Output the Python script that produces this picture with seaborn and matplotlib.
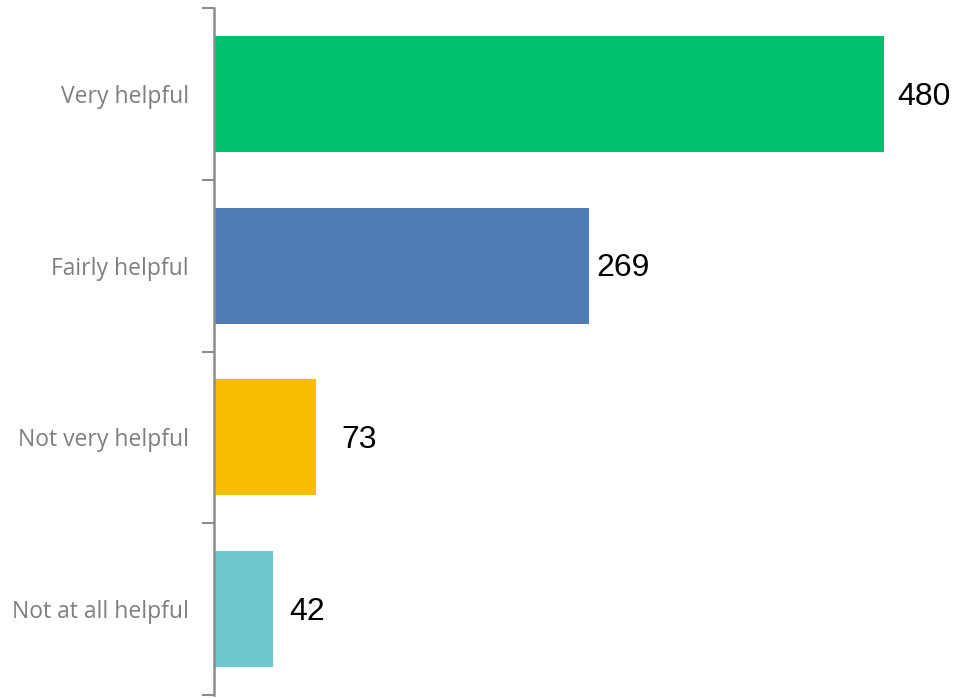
import pandas as pd
import matplotlib.pyplot as plt
import seaborn as sns
from matplotlib.ticker import FixedLocator

sns.set_theme(style="white")

# data
categories = ["Very helpful", "Fairly helpful", "Not very helpful", "Not at all helpful"]
counts = [480, 269, 73, 42]
colors = ["#00BF6F", "#4E7CB5", "#F9BE00", "#6CC8CC"]
label_pad = [13, 7, 26, 17]  # px gap between bar end and value label

df = pd.DataFrame({"category": categories, "count": counts})

fig = plt.figure(figsize=(9.55, 6.98), dpi=100)
ax = fig.add_axes([214 / 955, 3 / 698, (955 - 214) / 955, 687 / 698])

sns.barplot(data=df, y="category", x="count", hue="category", palette=colors,
            orient="h", width=0.674, legend=False, saturation=1, linewidth=0, ax=ax)

ax.set_xlim(0, 531)
ax.set_ylim(3.5, -0.5)
ax.set_xlabel("")
ax.set_ylabel("")
ax.set_xticks([])

# category labels without tick marks, tick marks between categories
ax.tick_params(axis="y", which="major", length=0, pad=18, labelsize=16.5,
               labelcolor="#7F7F7F")
for lab in ax.get_yticklabels():
    lab.set_fontfamily("Open Sans")
ax.yaxis.set_minor_locator(FixedLocator([-0.5, 0.5, 1.5, 2.5, 3.5]))
ax.tick_params(axis="y", which="minor", length=9, width=1.5, color="#8C8C8C", left=True)

for s in ["top", "right", "bottom"]:
    ax.spines[s].set_visible(False)
ax.spines["left"].set_color("#8C8C8C")
ax.spines["left"].set_linewidth(1.8)

# value labels
for i, (v, p) in enumerate(zip(counts, label_pad)):
    ax.annotate(str(v), xy=(v, i), xytext=(p * 0.72, -2), textcoords="offset points",
                ha="left", va="center", fontsize=23, color="black",
                fontfamily="Liberation Sans")

fig.savefig("out.png", dpi=100)
